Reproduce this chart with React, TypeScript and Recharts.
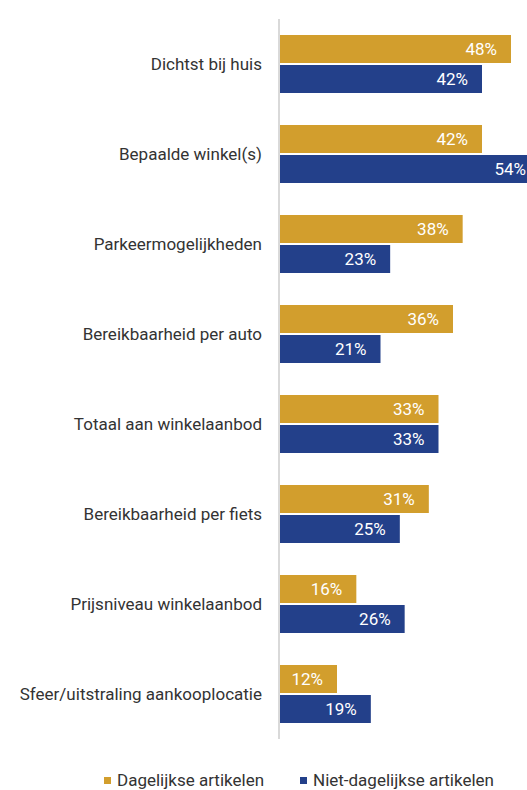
import { BarChart, Bar, XAxis, YAxis, LabelList } from 'recharts';

const categories = [
  'Dichtst bij huis',
  'Bepaalde winkel(s)',
  'Parkeermogelijkheden',
  'Bereikbaarheid per auto',
  'Totaal aan winkelaanbod',
  'Bereikbaarheid per fiets',
  'Prijsniveau winkelaanbod',
  'Sfeer/uitstraling aankooplocatie',
];
const dagelijks = [48, 42, 38, 36, 33, 31, 16, 12];
const nietDagelijks = [42, 54, 23, 21, 33, 25, 26, 19];

const GOLD = '#D29E2D';
const NAVY = '#23408A';
const FONT = 'Roboto, "Noto Sans", sans-serif';

const data = categories.map((name, i) => ({
  name,
  dag: dagelijks[i],
  niet: nietDagelijks[i],
}));

const legendItems = [
  { color: GOLD, label: 'Dagelijkse artikelen', left: 104 },
  { color: NAVY, label: 'Niet-dagelijkse artikelen', left: 300 },
];

export default function App() {
  return (
    <div style={{ position: 'absolute', left: 0, top: 0, width: 527, height: 790, overflow: 'hidden', background: '#fff' }}>
      <BarChart
        width={540}
        height={750}
        data={data}
        layout="vertical"
        margin={{ top: 19, right: 0, left: 0, bottom: 11 }}
        barSize={28}
        barGap={2}
      >
        <XAxis type="number" domain={[0, 54]} hide />
        <YAxis
          type="category"
          dataKey="name"
          width={279}
          axisLine={{ stroke: '#d9d9d9', strokeWidth: 2 }}
          tickLine={false}
          tickMargin={11}
          tick={{ fill: '#333', fontSize: 17, fontFamily: FONT }}
        />
        <Bar dataKey="dag" fill={GOLD} isAnimationActive={false}>
          <LabelList
            dataKey="dag"
            position="insideRight"
            offset={14}
            formatter={(v: number) => `${v}%`}
            style={{ fill: '#fff', fontSize: 17, fontFamily: FONT }}
          />
        </Bar>
        <Bar dataKey="niet" fill={NAVY} isAnimationActive={false}>
          <LabelList
            dataKey="niet"
            position="insideRight"
            offset={14}
            formatter={(v: number) => `${v}%`}
            style={{ fill: '#fff', fontSize: 17, fontFamily: FONT }}
          />
        </Bar>
      </BarChart>
      {/* legend */}
      {legendItems.map(({ color, label, left }) => (
        <div
          key={label}
          style={{
            position: 'absolute', left, top: 770, display: 'flex', alignItems: 'center',
            fontFamily: FONT, fontSize: 17, color: '#333', lineHeight: '20px',
          }}
        >
          <span style={{ width: 7, height: 7, background: color, marginRight: 6, display: 'inline-block' }} />
          <span>{label}</span>
        </div>
      ))}
    </div>
  );
}
